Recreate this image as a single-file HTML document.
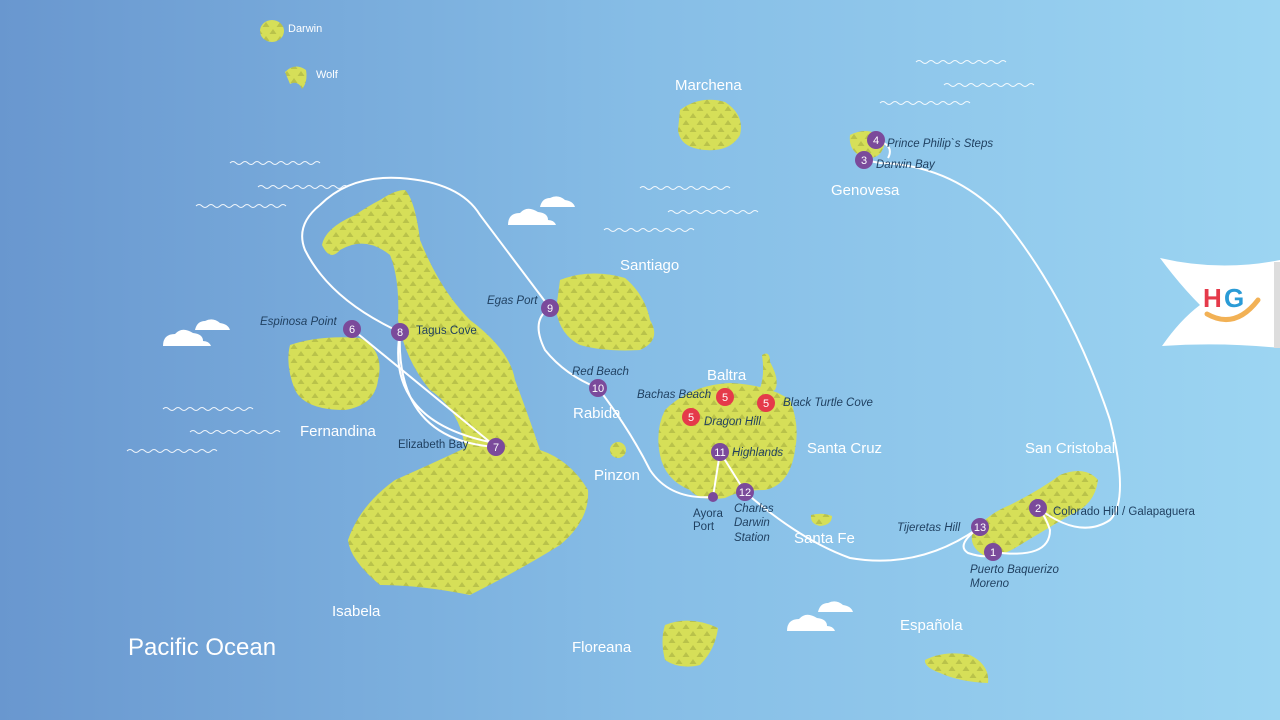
<!DOCTYPE html>
<html><head><meta charset="utf-8"><style>
html,body{margin:0;padding:0;width:1280px;height:720px;overflow:hidden}
svg{display:block}
text{font-family:"Liberation Sans",sans-serif}
.w{fill:#fff;font-size:15px}
.l{fill:#1f3f5f;font-size:11.5px;font-style:italic}
.n{fill:#1f3f5f;font-size:11.5px}
.c{fill:#fff;font-size:11px;text-anchor:middle}
</style></head><body>
<svg width="1280" height="720" viewBox="0 0 1280 720" xmlns="http://www.w3.org/2000/svg">
<defs>
<linearGradient id="bg" x1="0" y1="0" x2="1" y2="0">
<stop offset="0" stop-color="#6997cf"/><stop offset="0.5" stop-color="#86bde6"/><stop offset="1" stop-color="#9cd5f2"/></linearGradient>
<pattern id="tri" width="14" height="14" patternUnits="userSpaceOnUse">
<rect width="14" height="14" fill="#d6df58"/>
<path d="M3.5 6 L7 1 L10.5 6Z M-3.5 13 L0 8 L3.5 13Z M10.5 13 L14 8 L17.5 13Z" fill="#b9c24a"/>
</pattern>
<path id="wv" d="M0 0 q3 -3 6 0 q3 3 6 0 q3 -3 6 0 q3 3 6 0 q3 -3 6 0 q3 3 6 0 q3 -3 6 0 q3 3 6 0 q3 -3 6 0 q3 3 6 0 q3 -3 6 0 q3 3 6 0 q3 -3 6 0 q3 3 6 0 q3 -3 6 0"/>
</defs>
<rect width="1280" height="720" fill="url(#bg)"/>
<g fill="none" stroke="#fff" stroke-width="1" opacity="0.9">
<use href="#wv" x="230" y="163"/><use href="#wv" x="258" y="187"/><use href="#wv" x="196" y="206"/>
<use href="#wv" x="163" y="409"/><use href="#wv" x="190" y="432"/><use href="#wv" x="127" y="451"/>
<use href="#wv" x="640" y="188"/><use href="#wv" x="668" y="212"/><use href="#wv" x="604" y="230"/>
<use href="#wv" x="916" y="62"/><use href="#wv" x="944" y="85"/><use href="#wv" x="880" y="103"/>
</g>
<g fill="url(#tri)">
<ellipse cx="272" cy="31" rx="12" ry="11"/>
<path d="M285 72 Q295 62 306 70 Q308 82 302 89 Q298 80 290 84 Z"/>
<path d="M680 110 Q700 95 725 102 Q745 115 740 135 Q730 152 705 150 Q680 148 678 130Z"/>
<path d="M850 135 Q870 125 885 140 Q883 160 865 158 Q848 152 850 135Z"/>
<path d="M322 245 Q325 228 355 215 Q370 205 380 200 Q395 190 405 190 Q415 200 420 240 Q440 290 470 320 Q510 350 515 380 Q530 420 540 450 Q570 460 588 490 Q590 520 560 545 Q520 570 470 595 Q420 585 380 585 Q350 560 348 540 Q360 505 395 480 Q440 460 465 448 Q460 410 430 390 Q405 360 398 320 Q400 280 390 255 Q365 235 340 250 Q330 262 322 245Z"/>
<path d="M290 345 Q320 335 360 338 Q385 350 378 380 Q375 405 345 410 Q305 410 295 390 Q285 365 290 345Z"/>
<path d="M560 280 Q590 268 625 278 Q645 295 650 320 Q662 340 640 350 Q605 352 580 345 Q560 335 556 310Z"/>
<path d="M665 410 Q690 385 730 383 Q770 385 790 400 Q800 425 795 450 Q790 485 765 490 Q740 490 725 498 Q700 502 690 490 Q665 480 660 455 Q655 430 665 410Z"/>
<path d="M762 355 Q770 350 770 362 Q780 380 775 390 Q765 395 760 388 Q765 375 762 355Z"/>
<path d="M972 535 Q985 515 1010 505 Q1040 490 1060 475 Q1085 465 1098 480 Q1095 505 1070 515 Q1045 530 1020 545 Q1000 558 985 556 Q970 548 972 535Z"/>
<path d="M925 660 Q945 650 970 655 Q990 665 988 683 Q960 682 940 673 Q924 667 925 660Z"/>
<path d="M665 625 Q690 615 718 628 Q715 650 700 665 Q680 670 665 660 Q660 640 665 625Z"/>
<path d="M811 515 Q822 512 832 516 Q832 525 820 526 Q810 524 811 515Z"/>
<ellipse cx="618" cy="450" rx="8" ry="8"/>
</g>
<g fill="#fff">
<path d="M508 225 Q508 213 520 213 Q527 205 538 212 Q548 213 548 220 Q554 220 556 225Z"/>
<path d="M540 207 Q542 198 550 198 Q558 194 565 200 Q573 201 575 207Z"/>
<path d="M163 346 Q163 334 175 334 Q182 326 193 333 Q203 334 203 341 Q209 341 211 346Z"/>
<path d="M195 330 Q197 321 205 321 Q213 317 220 323 Q228 324 230 330Z"/>
<path d="M787 631 Q787 619 799 619 Q806 611 817 618 Q827 619 827 626 Q833 626 835 631Z"/>
<path d="M818 612 Q820 603 828 603 Q836 599 843 605 Q851 606 853 612Z"/>
<path d="M1160 258 Q1220 272 1280 260 L1280 348 Q1220 342 1162 346 Q1180 320 1200 305 Q1180 285 1160 258Z"/>
</g>
<rect x="1274" y="262" width="6" height="86" fill="#ddd"/>
<text x="1203" y="307" font-size="26" font-weight="bold" fill="#e53a4a">H</text>
<text x="1224" y="307" font-size="26" font-weight="bold" fill="#2a9bd6">G</text>
<path d="M1207 314 Q1235 330 1258 300" fill="none" stroke="#f2b155" stroke-width="5" stroke-linecap="round"/>
<g fill="none" stroke="#fff" stroke-width="2">
<path d="M352 329 L496 447"/>
<path d="M400 332 Q385 420 490 442"/>
<path d="M400 332 Q395 440 496 447"/>
<path d="M400 332 Q330 300 305 250 Q295 225 320 205 Q350 175 400 178 Q460 182 480 215 L550 308"/>
<path d="M550 308 Q530 320 545 350 Q565 375 598 388"/>
<path d="M598 388 Q630 430 650 470 Q670 500 713 497"/>
<path d="M713 497 L720 452 L745 492"/>
<path d="M745 492 Q800 540 850 558 Q920 570 980 527"/>
<path d="M980 527 Q955 545 968 553 Q990 560 993 552"/>
<path d="M993 552 Q1050 560 1050 530 Q1045 515 1038 508"/>
<path d="M1038 508 Q1080 540 1110 520 Q1130 500 1110 420 Q1070 300 1000 215 Q950 165 880 163 L864 160"/>
<path d="M876 140 Q895 145 888 158"/>
</g>
<g>
<circle cx="876" cy="140" r="9" fill="#7b4a9b"/><text class="c" x="876" y="144">4</text>
<circle cx="864" cy="160" r="9" fill="#7b4a9b"/><text class="c" x="864" y="164">3</text>
<circle cx="352" cy="329" r="9" fill="#7b4a9b"/><text class="c" x="352" y="333">6</text>
<circle cx="400" cy="332" r="9" fill="#7b4a9b"/><text class="c" x="400" y="336">8</text>
<circle cx="496" cy="447" r="9" fill="#7b4a9b"/><text class="c" x="496" y="451">7</text>
<circle cx="550" cy="308" r="9" fill="#7b4a9b"/><text class="c" x="550" y="312">9</text>
<circle cx="598" cy="388" r="9" fill="#7b4a9b"/><text class="c" x="598" y="392">10</text>
<circle cx="720" cy="452" r="9" fill="#7b4a9b"/><text class="c" x="720" y="456">11</text>
<circle cx="745" cy="492" r="9" fill="#7b4a9b"/><text class="c" x="745" y="496">12</text>
<circle cx="713" cy="497" r="5" fill="#7b4a9b"/>
<circle cx="980" cy="527" r="9" fill="#7b4a9b"/><text class="c" x="980" y="531">13</text>
<circle cx="993" cy="552" r="9" fill="#7b4a9b"/><text class="c" x="993" y="556">1</text>
<circle cx="1038" cy="508" r="9" fill="#7b4a9b"/><text class="c" x="1038" y="512">2</text>
<circle cx="725" cy="397" r="9" fill="#e53a4a"/><text class="c" x="725" y="401">5</text>
<circle cx="691" cy="417" r="9" fill="#e53a4a"/><text class="c" x="691" y="421">5</text>
<circle cx="766" cy="403" r="9" fill="#e53a4a"/><text class="c" x="766" y="407">5</text>
</g>
<text class="w" x="288" y="32" style="font-size:11px">Darwin</text>
<text class="w" x="316" y="78" style="font-size:11px">Wolf</text>
<text class="w" x="675" y="90">Marchena</text>
<text class="w" x="831" y="195">Genovesa</text>
<text class="w" x="620" y="270">Santiago</text>
<text class="w" x="707" y="380">Baltra</text>
<text class="w" x="573" y="418">Rabida</text>
<text class="w" x="300" y="436">Fernandina</text>
<text class="w" x="594" y="480">Pinzon</text>
<text class="w" x="807" y="453">Santa Cruz</text>
<text class="w" x="1025" y="453">San Cristobal</text>
<text class="w" x="794" y="543">Santa Fe</text>
<text class="w" x="332" y="616">Isabela</text>
<text class="w" x="572" y="652">Floreana</text>
<text class="w" x="900" y="630">Española</text>
<text class="w" x="128" y="655" style="font-size:24px">Pacific Ocean</text>
<text class="l" x="887" y="147">Prince Philip`s Steps</text>
<text class="l" x="876" y="168">Darwin Bay</text>
<text class="l" x="260" y="325">Espinosa Point</text>
<text class="n" x="416" y="334">Tagus Cove</text>
<text class="n" x="398" y="448">Elizabeth Bay</text>
<text class="l" x="487" y="304">Egas Port</text>
<text class="l" x="572" y="375">Red Beach</text>
<text class="l" x="637" y="398">Bachas Beach</text>
<text class="l" x="704" y="425">Dragon Hill</text>
<text class="l" x="783" y="406">Black Turtle Cove</text>
<text class="l" x="732" y="456">Highlands</text>
<text class="n" x="693" y="517">Ayora</text>
<text class="n" x="693" y="530">Port</text>
<text class="l" x="734" y="512">Charles</text>
<text class="l" x="734" y="526">Darwin</text>
<text class="l" x="734" y="541">Station</text>
<text class="l" x="897" y="531">Tijeretas Hill</text>
<text class="l" x="970" y="573">Puerto Baquerizo</text>
<text class="l" x="970" y="587">Moreno</text>
<text class="n" x="1053" y="515">Colorado Hill / Galapaguera</text>
</svg>
</body></html>
